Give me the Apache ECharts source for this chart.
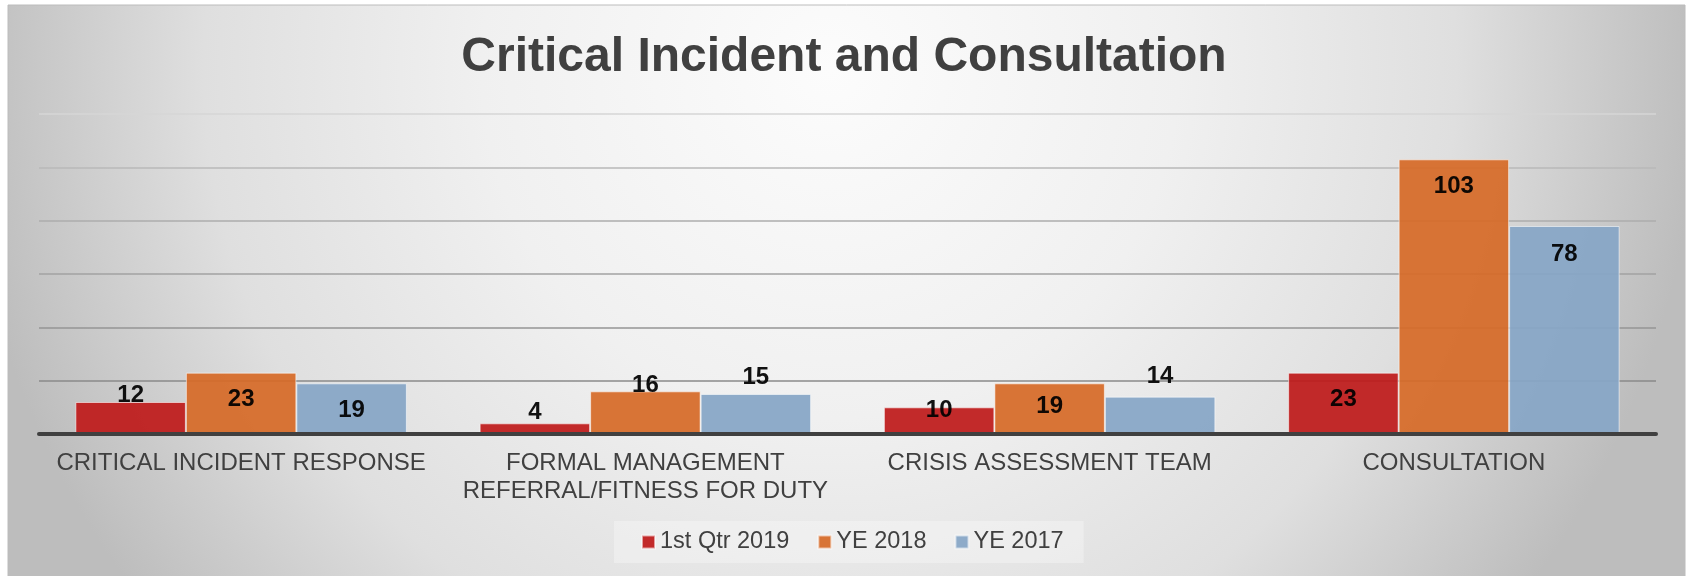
<!DOCTYPE html>
<html>
<head>
<meta charset="utf-8">
<script src="https://cdn.jsdelivr.net/npm/echarts@6/dist/echarts.min.js"></script>
<style>
  html, body { margin: 0; padding: 0; background: #ffffff; }
  #chart { width: 1688px; height: 576px; }
</style>
</head>
<body>
<div id="chart"></div>
<script>
// ---- data ----
const categories = [
  'CRITICAL INCIDENT RESPONSE',
  'FORMAL MANAGEMENT\nREFERRAL/FITNESS FOR DUTY',
  'CRISIS ASSESSMENT TEAM',
  'CONSULTATION'
];
const seriesNames = ['1st Qtr 2019', 'YE 2018', 'YE 2017'];
const q1_2019 = [12, 4, 10, 23];
const ye2018 = [23, 16, 19, 103];
const ye2017 = [19, 15, 14, 78];
const yTicks = [0, 20, 40, 60, 80, 100, 120];

// label vertical offsets (px, label centre relative to bar top)
const labelDyQ1 = [-7, -11, 3, 27];
const labelDy18 = [27, -6, 23.5, 27.5];
const labelDy17 = [27, -17, -20.5, 28.5];

const FONT = '"Liberation Sans", Arial, sans-serif';
const colors = ['#BE1B1B', '#D66A28', '#86A6C6'];

function mkSeries(name, values, dys, color) {
  return {
    name: name,
    type: 'bar',
    barGap: '0%',
    barCategoryGap: '18%',
    itemStyle: {
      color: color,
      opacity: 0.93,
      borderColor: 'rgba(255,255,255,0.6)',
      borderWidth: 1
    },
    label: {
      show: true,
      position: 'insideTop',
      distance: 0,
      verticalAlign: 'middle',
      color: '#000000',
      fontSize: 24,
      fontWeight: 'bold',
      fontFamily: FONT
    },
    data: values.map((v, i) => ({ value: v, label: { offset: [0, dys[i]] } }))
  };
}

const chart = echarts.init(document.getElementById('chart'), null, { renderer: 'canvas' });
chart.setOption({
  animation: false,
  backgroundColor: '#ffffff',
  color: colors,
  graphic: [{
    type: 'rect',
    z: -10,
    silent: true,
    shape: { x: 8, y: 5, width: 1677, height: 580 },
    style: {
      fill: {
        type: 'radial', x: 830, y: 70, r: 870, global: true,
        colorStops: [
          { offset: 0, color: '#fcfcfc' },
          { offset: 0.4, color: '#f0f0f0' },
          { offset: 0.72, color: '#dfdfdf' },
          { offset: 1, color: '#bdbdbd' }
        ]
      },
      stroke: '#bcbcbc',
      lineWidth: 1
    }
  }],
  title: {
    text: 'Critical Incident and Consultation',
    left: 'center',
    top: 34,
    padding: 0,
    textStyle: { fontSize: 48, fontWeight: 'bold', color: '#404040', fontFamily: FONT }
  },
  legend: {
    data: seriesNames,
    left: 614,
    top: 521,
    padding: [9, 20, 9, 27],
    itemWidth: 13,
    itemHeight: 13,
    itemGap: 28,
    icon: 'rect',
    backgroundColor: 'rgba(255,255,255,0.3)',
    textStyle: { fontSize: 23.5, color: '#404040', fontFamily: FONT }
  },
  grid: { left: 39, right: 32, top: 114, bottom: 142, containLabel: false },
  xAxis: {
    type: 'category',
    data: categories,
    z: 5,
    axisLine: { show: true, lineStyle: { color: '#404040', width: 4 } },
    axisTick: { show: false },
    axisLabel: {
      interval: 0,
      margin: 15,
      fontSize: 24,
      lineHeight: 28,
      color: '#404040',
      fontFamily: FONT
    }
  },
  yAxis: {
    type: 'value',
    min: yTicks[0],
    max: yTicks[yTicks.length - 1],
    interval: yTicks[1] - yTicks[0],
    axisLine: { show: false },
    axisTick: { show: false },
    axisLabel: { show: false },
    splitLine: {
      show: true,
      lineStyle: {
        width: 1.5,
        color: ['#888888', '#8a8a8a', '#959595', '#a2a2a2', '#adadad', '#b8b8b8', '#d6d6d6']
      }
    }
  },
  series: [
    mkSeries(seriesNames[0], q1_2019, labelDyQ1, colors[0]),
    mkSeries(seriesNames[1], ye2018, labelDy18, colors[1]),
    mkSeries(seriesNames[2], ye2017, labelDy17, colors[2])
  ]
});
</script>
</body>
</html>
